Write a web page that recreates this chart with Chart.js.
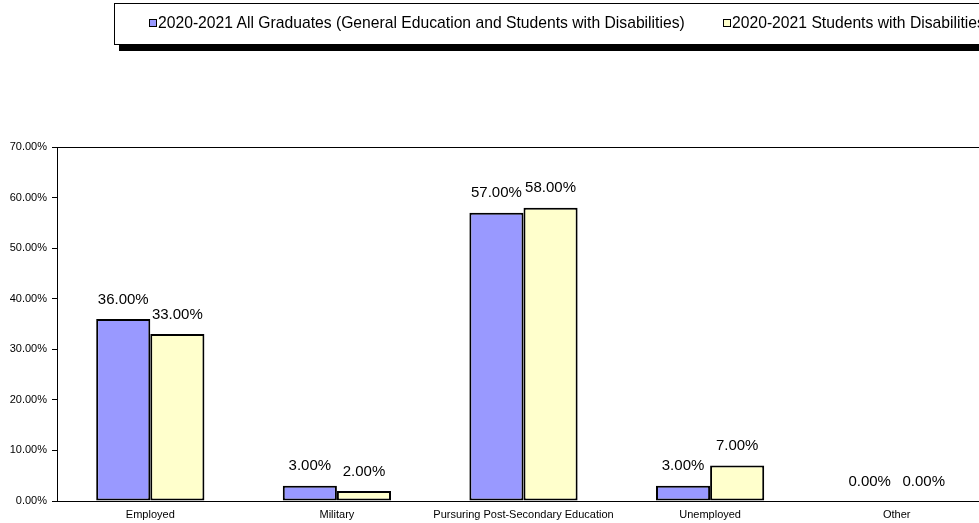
<!DOCTYPE html>
<html>
<head>
<meta charset="utf-8">
<script src="https://cdn.jsdelivr.net/npm/chart.js@4/dist/chart.umd.min.js"></script>
<style>
  html, body { margin: 0; padding: 0; background: #fff; overflow: hidden; width: 979px; height: 523px; }
  #wrap { position: relative; width: 979px; height: 523px; overflow: hidden; }
  #grafica { position: absolute; left: 0; top: 0; }
  #leyenda {
    position: absolute; left: 114px; top: 3px; width: 900px; height: 40px;
    border: 1px solid #000; background: #fff;
    box-shadow: 5px 6px 0 #000;
    font-family: "Liberation Sans", Arial, sans-serif; font-size: 15.7px; color: #000;
    white-space: nowrap;
  }
  #leyenda .item { position: absolute; top: 10px; }
  #leyenda .marca { display: inline-block; width: 6px; height: 6px; border: 1px solid #000; margin-right: 1px; vertical-align: 1px; }
</style>
</head>
<body>
<div id="wrap">
  <canvas id="grafica" width="1000" height="523"></canvas>
  <div id="leyenda"></div>
</div>
<script>
// Datos del grafico
var categorias = ['Employed', 'Military', 'Pursuring Post-Secondary Education', 'Unemployed', 'Other'];
var serieTodos = [36, 3, 57, 3, 0];
var serieDisc = [33, 2, 58, 7, 0];
var nombreTodos = '2020-2021 All Graduates (General Education and Students with Disabilities)';
var nombreDisc = '2020-2021 Students with Disabilities';
var colorTodos = '#9999FF';
var colorDisc = '#FFFFCC';

var fuente = '"Liberation Sans", Arial, sans-serif';

// Leyenda en HTML (caja con sombra, recortada a la derecha)
var posLeyenda = [34, 608];
var leyenda = document.getElementById('leyenda');
[[nombreTodos, colorTodos], [nombreDisc, colorDisc]].forEach(function (s, i) {
    var item = document.createElement('span');
    item.className = 'item';
    item.style.left = posLeyenda[i] + 'px';
    item.innerHTML = '<span class="marca" style="background:' + s[1] + '"></span>' + s[0];
    leyenda.appendChild(item);
});

// Etiquetas de valor sobre las barras
var etiquetas = {
    id: 'etiquetas',
    afterDatasetsDraw: function (chart) {
        var ctx = chart.ctx;
        ctx.save();
        ctx.font = '15px ' + fuente;
        ctx.fillStyle = '#000';
        ctx.textAlign = 'center';
        ctx.textBaseline = 'bottom';
        chart.data.datasets.forEach(function (ds, i) {
            chart.getDatasetMeta(i).data.forEach(function (bar, j) {
                ctx.fillText(ds.data[j].toFixed(2) + '%', bar.x, bar.y - 12);
            });
        });
        ctx.restore();
    }
};

// Borde del area de trazado
var borde = {
    id: 'borde',
    beforeDatasetsDraw: function (chart) {
        var a = chart.chartArea;
        var ctx = chart.ctx;
        ctx.save();
        ctx.strokeStyle = '#000';
        ctx.lineWidth = 1;
        ctx.strokeRect(a.left + 0.5, a.top + 0.5, a.right - a.left, a.bottom - a.top);
        ctx.restore();
    }
};

new Chart(document.getElementById('grafica').getContext('2d'), {
    type: 'bar',
    data: {
        labels: categorias,
        datasets: [{
            label: nombreTodos,
            data: serieTodos,
            backgroundColor: colorTodos,
            borderColor: '#000',
            borderWidth: 2,
            borderSkipped: false,
            categoryPercentage: 0.58,
            barPercentage: 1
        }, {
            label: nombreDisc,
            data: serieDisc,
            backgroundColor: colorDisc,
            borderColor: '#000',
            borderWidth: 2,
            borderSkipped: false,
            categoryPercentage: 0.58,
            barPercentage: 1
        }]
    },
    options: {
        responsive: false,
        animation: false,
        layout: { padding: { top: 147, right: 10, bottom: 0, left: 0 } },
        plugins: {
            legend: { display: false },
            tooltip: { enabled: false }
        },
        scales: {
            x: {
                grid: { display: false, drawTicks: false },
                border: { color: '#000' },
                ticks: { color: '#000', font: { family: fuente, size: 11 }, padding: 7, maxRotation: 0, autoSkip: false },
                afterFit: function (s) { s.height = 22; }
            },
            y: {
                min: 0,
                max: 70,
                grid: { drawOnChartArea: false, tickLength: 5, color: '#000' },
                border: { color: '#000' },
                ticks: {
                    stepSize: 10,
                    color: '#000',
                    padding: 5,
                    font: { family: fuente, size: 11 },
                    callback: function (v) { return v.toFixed(2) + '%'; }
                },
                afterFit: function (s) { s.width = 57; }
            }
        }
    },
    plugins: [borde, etiquetas]
});
</script>
</body>
</html>
